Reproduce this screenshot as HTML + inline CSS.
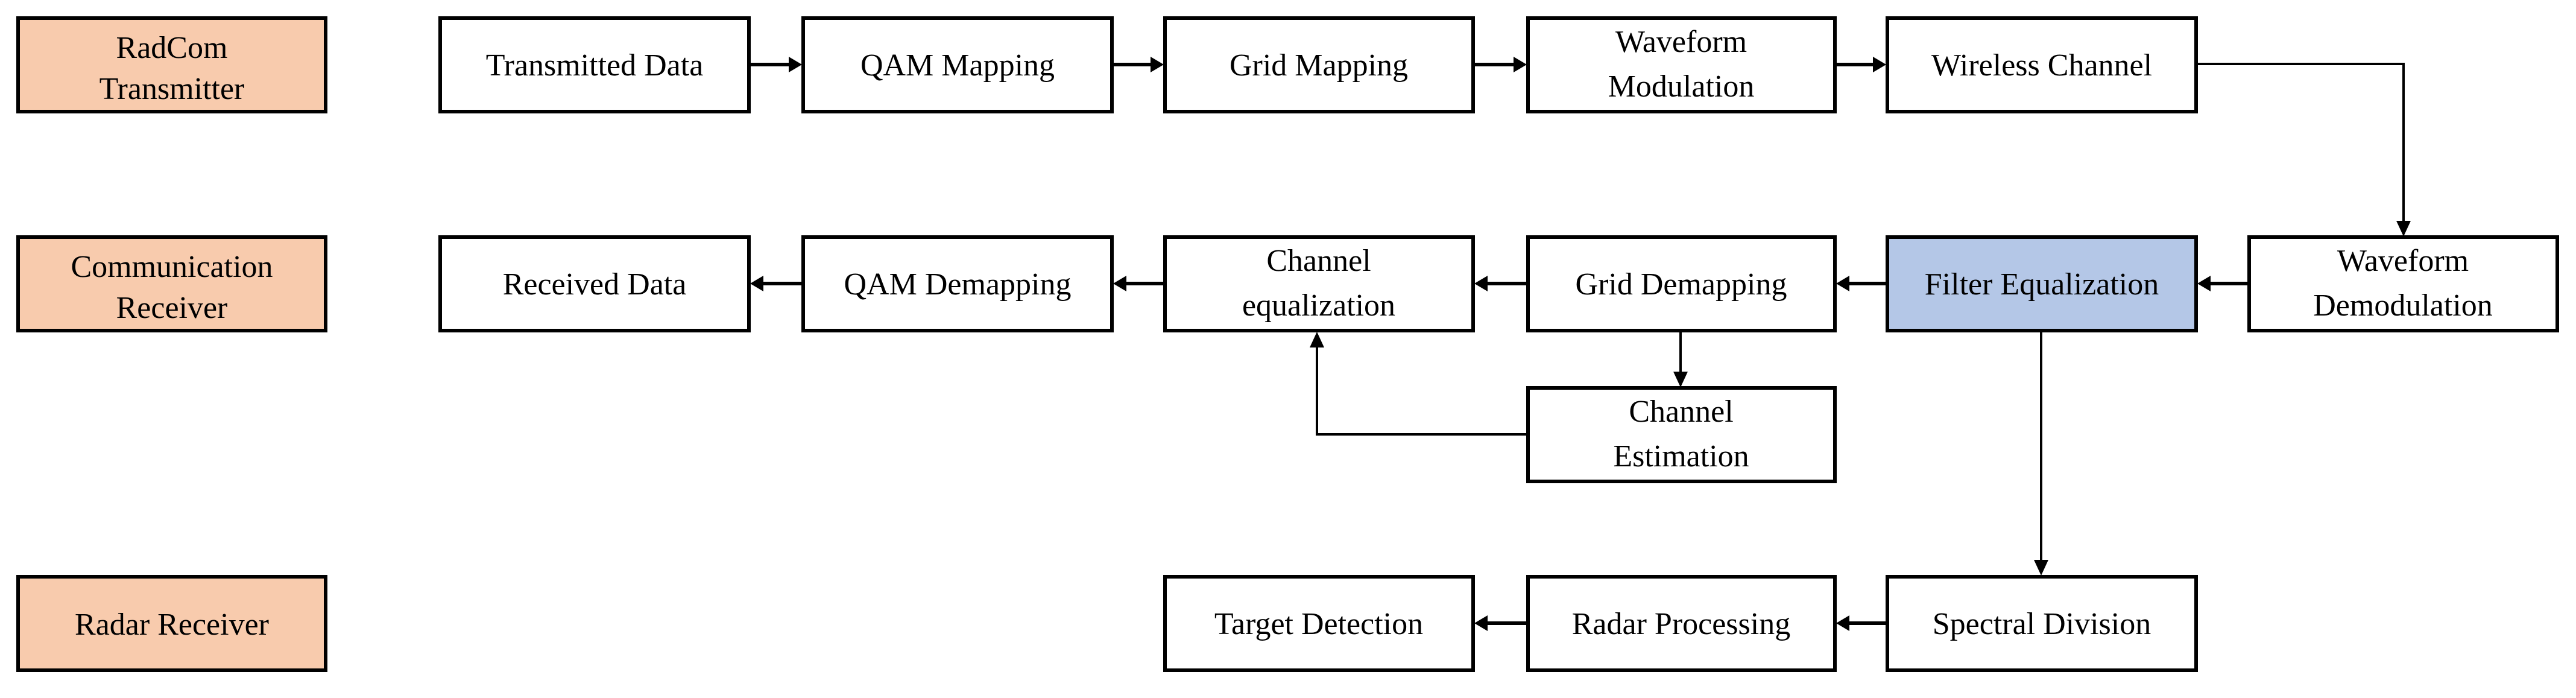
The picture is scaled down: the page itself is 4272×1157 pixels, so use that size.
<!DOCTYPE html>
<html><head><meta charset="utf-8"><style>
html,body{margin:0;padding:0;background:#fff;}
svg{display:block;}
text{font-family:"Liberation Serif",serif;font-size:52px;fill:#000;text-anchor:middle;}
</style></head><body>
<svg width="4272" height="1157" viewBox="0 0 4272 1157" xmlns="http://www.w3.org/2000/svg">
<defs>
<marker id="a" markerWidth="8" markerHeight="8" refX="7" refY="4" orient="auto" markerUnits="userSpaceOnUse" viewBox="0 0 8 8">
</marker>
</defs>
<g stroke="#000" stroke-width="6" fill="#fff">
<rect x="30" y="30" width="510" height="155" fill="#f8cbad"/>
<rect x="30" y="393" width="510" height="155" fill="#f8cbad"/>
<rect x="30" y="956" width="510" height="155" fill="#f8cbad"/>

<rect x="730" y="30" width="512" height="155"/>
<rect x="1332" y="30" width="512" height="155"/>
<rect x="1932" y="30" width="511" height="155"/>
<rect x="2534" y="30" width="509" height="155"/>
<rect x="3130" y="30" width="512" height="155"/>

<rect x="730" y="393" width="512" height="155"/>
<rect x="1332" y="393" width="512" height="155"/>
<rect x="1932" y="393" width="511" height="155"/>
<rect x="2534" y="393" width="509" height="155"/>
<rect x="3130" y="393" width="512" height="155" fill="#b4c7e7"/>
<rect x="3730" y="393" width="511" height="155"/>

<rect x="2534" y="643" width="509" height="155"/>

<rect x="1932" y="956" width="511" height="155"/>
<rect x="2534" y="956" width="509" height="155"/>
<rect x="3130" y="956" width="512" height="155"/>
</g>

<g stroke="#000" fill="none">
<!-- row1 arrows -->
<path d="M1242 107H1310M1844 107H1910M2443 107H2512M3043 107H3108" stroke-width="6"/>
<path d="M3642 106H3986V370" stroke-width="4"/>
<!-- row2 arrows -->
<path d="M3730 470H3664M3130 470H3065M2534 470H2465M1932 470H1866M1332 470H1264" stroke-width="6"/>
<path d="M2787 548V622M3385 548V934" stroke-width="4"/>
<path d="M2534 720H2184V570" stroke-width="4"/>
<!-- row3 -->
<path d="M3130 1033H3065M2534 1033H2465" stroke-width="6"/>
</g>
<g fill="#000">
<!-- right-pointing heads -->
<path d="M1330 107l-22 -13v26z"/>
<path d="M1930 107l-22 -13v26z"/>
<path d="M2532 107l-22 -13v26z"/>
<path d="M3128 107l-22 -13v26z"/>
<!-- down heads -->
<path d="M3986 392l-12 -26h24z"/>
<path d="M2787 642l-12 -26h24z"/>
<path d="M3385 954l-12 -26h24z"/>
<!-- up head -->
<path d="M2184 550l-12 26h24z"/>
<!-- left heads -->
<path d="M3644 470l22 -13v26z"/>
<path d="M3045 470l22 -13v26z"/>
<path d="M2445 470l22 -13v26z"/>
<path d="M1846 470l22 -13v26z"/>
<path d="M1244 470l22 -13v26z"/>
<path d="M3045 1033l22 -13v26z"/>
<path d="M2445 1033l22 -13v26z"/>
</g>

<text x="285" y="96">RadCom</text>
<text x="285" y="164">Transmitter</text>
<text x="285" y="459">Communication</text>
<text x="285" y="527">Receiver</text>
<text x="285" y="1052">Radar Receiver</text>

<text x="986" y="125">Transmitted Data</text>
<text x="1588" y="125">QAM Mapping</text>
<text x="2187" y="125">Grid Mapping</text>
<text x="2788" y="86">Waveform</text>
<text x="2788" y="160">Modulation</text>
<text x="3386" y="125">Wireless Channel</text>

<text x="986" y="488">Received Data</text>
<text x="1588" y="488">QAM Demapping</text>
<text x="2187" y="449">Channel</text>
<text x="2187" y="523">equalization</text>
<text x="2788" y="488">Grid Demapping</text>
<text x="3386" y="488">Filter Equalization</text>
<text x="3985" y="449">Waveform</text>
<text x="3985" y="523">Demodulation</text>

<text x="2788" y="699">Channel</text>
<text x="2788" y="773">Estimation</text>

<text x="2187" y="1051">Target Detection</text>
<text x="2788" y="1051">Radar Processing</text>
<text x="3386" y="1051">Spectral Division</text>
</svg>
</body></html>
